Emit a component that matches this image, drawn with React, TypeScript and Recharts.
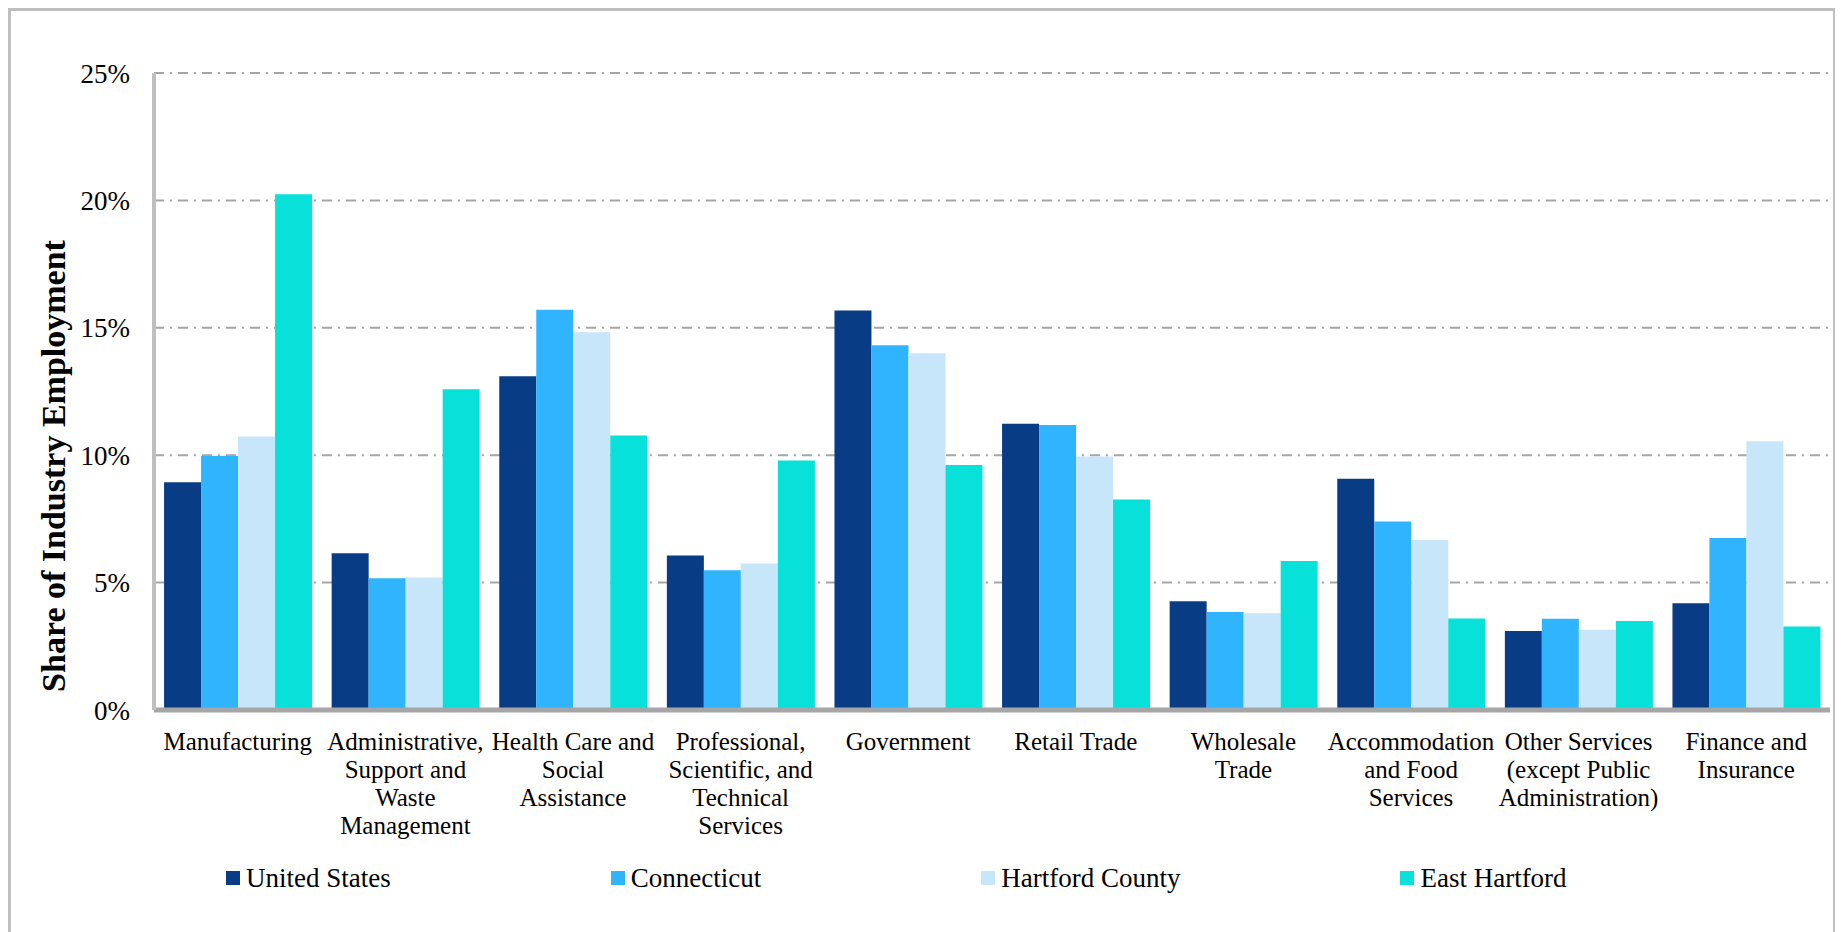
import { Bar, BarChart, CartesianGrid, XAxis, YAxis } from "recharts";

const FONT = "'Liberation Serif', 'Times New Roman', serif";

const categories = [
  "Manufacturing",
  "Administrative,\nSupport and\nWaste\nManagement",
  "Health Care and\nSocial\nAssistance",
  "Professional,\nScientific, and\nTechnical\nServices",
  "Government",
  "Retail Trade",
  "Wholesale\nTrade",
  "Accommodation\nand Food\nServices",
  "Other Services\n(except Public\nAdministration)",
  "Finance and\nInsurance",
];

// share of industry employment, in percent
const unitedStates = [8.94, 6.15, 13.1, 6.06, 15.68, 11.23, 4.27, 9.08, 3.1, 4.19];
const connecticut = [9.97, 5.17, 15.71, 5.48, 14.32, 11.19, 3.85, 7.4, 3.58, 6.75];
const hartfordCounty = [10.73, 5.2, 14.83, 5.75, 14.0, 9.95, 3.8, 6.67, 3.15, 10.55];
const eastHartford = [20.24, 12.59, 10.77, 9.79, 9.62, 8.26, 5.85, 3.59, 3.49, 3.28];

const yTicks = [0, 5, 10, 15, 20, 25];

const SERIES = [
  { key: "us", name: "United States", color: "#083D86", values: unitedStates },
  { key: "ct", name: "Connecticut", color: "#31B4FE", values: connecticut },
  { key: "hc", name: "Hartford County", color: "#C7E6FA", values: hartfordCounty },
  { key: "eh", name: "East Hartford", color: "#07E1DA", values: eastHartford },
];

const data = categories.map((name, i) => {
  const row: any = { name };
  SERIES.forEach((s) => {
    row[s.key] = s.values[i];
  });
  return row;
});

const CategoryTick = ({ x, y, payload }: any) => {
  const lines = String(payload.value).split("\n");
  return (
    <text x={x} y={y} textAnchor="middle" fontSize={25} fontFamily={FONT} fill="#000">
      {lines.map((line, i) => (
        <tspan key={i} x={x} dy={i === 0 ? 38 : 28}>
          {line}
        </tspan>
      ))}
    </text>
  );
};

const YTitle = () => (
  <text
    transform="translate(54, 455) rotate(-90)"
    textAnchor="middle"
    fontSize={34}
    fontWeight="bold"
    fontFamily={FONT}
    fill="#000"
  >
    Share of Industry Employment
  </text>
);

export default function App() {
  return (
    <div
      style={{
        width: 1822,
        height: 930,
        border: "3px solid #bfbfbf",
        background: "#fff",
        fontFamily: FONT,
        overflow: "hidden",
      }}
    >
      <style>{"body{overflow:hidden}"}</style>
      <BarChart
        width={1822}
        height={830}
        data={data}
        margin={{ top: 62, right: 3, left: 0, bottom: 0 }}
        barCategoryGap="6%"
        barGap={0}
      >
        <CartesianGrid
          vertical={false}
          stroke="#a6a6a6"
          strokeWidth={2}
          strokeDasharray="10 6 2 6"
        />
        <XAxis
          dataKey="name"
          height={131}
          interval={0}
          tick={<CategoryTick />}
          tickLine={false}
          tickSize={0}
          axisLine={{ stroke: "#a6a6a6", strokeWidth: 5 }}
        />
        <YAxis
          width={143}
          domain={[0, 25]}
          ticks={yTicks}
          tickFormatter={(v) => `${v}%`}
          tick={{ fontSize: 27, fill: "#000", fontFamily: FONT }}
          tickLine={false}
          tickSize={0}
          tickMargin={24}
          axisLine={{ stroke: "#bfbfbf", strokeWidth: 4 }}
          label={{ content: () => <YTitle /> }}
        />
        {SERIES.map((s) => (
          <Bar
            key={s.key}
            dataKey={s.key}
            name={s.name}
            fill={s.color}
            isAnimationActive={false}
          />
        ))}
      </BarChart>
      <div
        style={{
          display: "flex",
          alignItems: "center",
          gap: 220,
          paddingLeft: 215,
          marginTop: 22,
          height: 30,
          fontSize: 27,
          color: "#000",
        }}
      >
        {SERIES.map((s) => (
          <div key={s.key} style={{ display: "flex", alignItems: "center" }}>
            <span
              style={{
                display: "inline-block",
                width: 14,
                height: 14,
                background: s.color,
                marginRight: 6,
              }}
            />
            <span>{s.name}</span>
          </div>
        ))}
      </div>
    </div>
  );
}
